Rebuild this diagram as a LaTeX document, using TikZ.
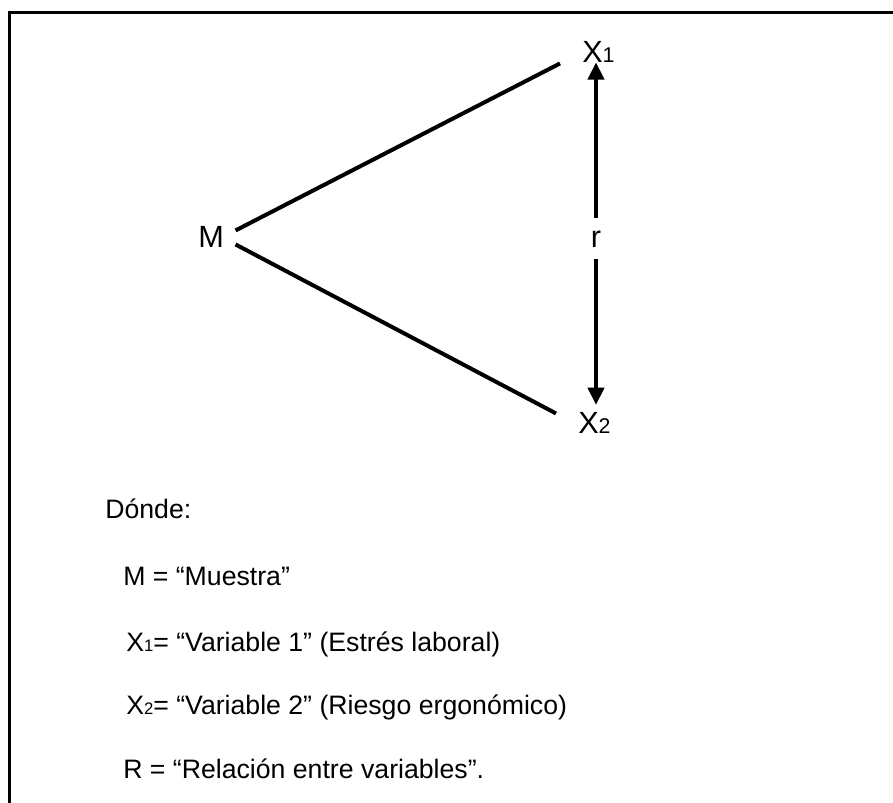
\documentclass[tikz,border=0pt]{standalone}
\usepackage{fontspec}
\setmainfont{Liberation Sans}
\usetikzlibrary{arrows.meta}
\tikzset{
  lbl/.style={inner sep=0pt, font=\fontsize{23}{27}\selectfont, anchor=base west},
  body/.style={inner sep=0pt, font=\fontsize{20}{24}\selectfont, anchor=base west},
  conn/.style={line width=3pt},
  arr/.style={line width=3pt, -{Triangle[width=12pt,length=13pt]}},
  frame/.style={line width=2.25pt}
}
\newcommand{\lsub}[1]{{\fontsize{16}{18}\selectfont #1}}
\newcommand{\bsub}[1]{{\fontsize{12.5}{14}\selectfont #1}}
\begin{document}
\begin{tikzpicture}[x=0.75pt,y=-0.75pt]
\useasboundingbox (0,0) rectangle (893,803);
\draw[frame] (893,12) -- (9.7,12) -- (9.7,803);
% diagram labels
\node[lbl] (M) at (198,247) {M};
\node[lbl] (X1) at (582,62) {X\lsub{1}};
\node[lbl] (X2) at (578,433) {X\lsub{2}};
\node[lbl, anchor=base, inner ysep=9pt] (r) at (596,247) {r};
% connectors
\draw[conn] ([xshift=8.6pt,yshift=4.5pt]M.east) -- ([xshift=-16.5pt,yshift=-9pt]X1.west);
\draw[conn] ([xshift=8.6pt,yshift=-6pt]M.east) -- ([xshift=-16.5pt,yshift=6.75pt]X2.west);
\draw[arr] (r.north) -- (r.north |- X1.south);
\draw[arr, shorten >=5pt] (r.south) -- (r.south |- X2.north);
% legend
\node[body] (d) at (105,518) {Dónde:};
\node[body] (l1) at (123,585) {M = “Muestra”};
\node[body] (l2) at (126,651) {X\bsub{1}= “Variable 1” (Estrés laboral)};
\node[body] (l3) at (126,714) {X\bsub{2}= “Variable 2” (Riesgo ergonómico)};
\node[body] (l4) at (123,778) {R = “Relación entre variables”.};
\end{tikzpicture}
\end{document}
